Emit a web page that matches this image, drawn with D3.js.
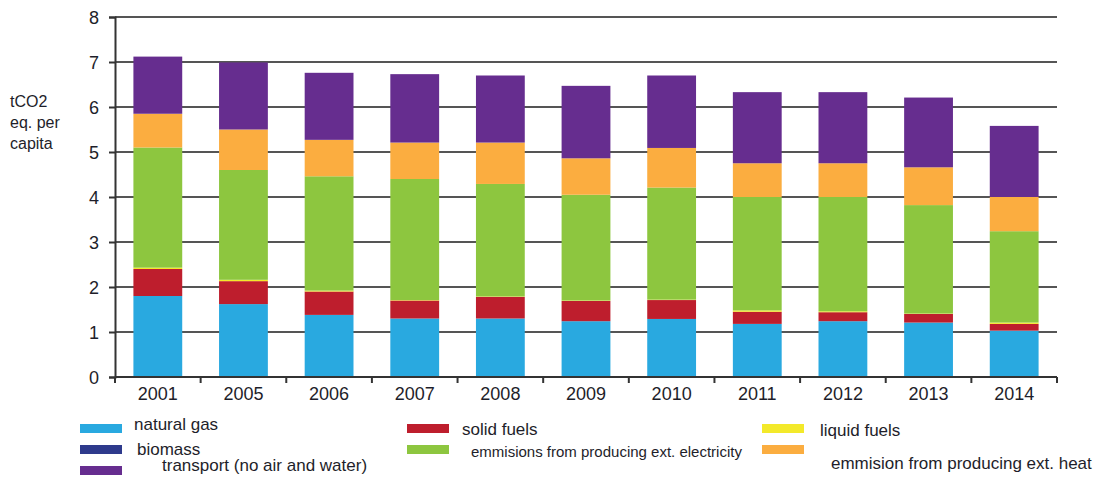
<!DOCTYPE html>
<html><head><meta charset="utf-8">
<script src="https://cdn.jsdelivr.net/npm/d3@7"></script>
<style>body{margin:0;background:#fff}svg text{font-family:"Liberation Sans",Arial,sans-serif}</style>
</head><body><svg id="c" width="1100" height="480"></svg>
<script>
const years = ["2001","2005","2006","2007","2008","2009","2010","2011","2012","2013","2014"];
const naturalGas  = [1.80,1.62,1.38,1.30,1.30,1.24,1.29,1.18,1.24,1.21,1.03];
const solidFuels  = [0.60,0.51,0.52,0.40,0.48,0.45,0.42,0.27,0.20,0.19,0.15];
const liquidFuels = [0.03,0.03,0.02,0.01,0.01,0.01,0.01,0.03,0.02,0.01,0.03];
const biomass     = [0,0,0,0,0,0,0,0,0,0,0];
const electricity = [2.67,2.44,2.54,2.69,2.50,2.35,2.49,2.52,2.54,2.41,2.03];
const heat        = [0.75,0.90,0.81,0.81,0.92,0.81,0.88,0.75,0.75,0.84,0.76];
const transport   = [1.27,1.49,1.49,1.52,1.49,1.61,1.61,1.58,1.58,1.55,1.58];
const yTicks = [0,1,2,3,4,5,6,7,8];

const seriesKeys = ["natural gas","solid fuels","liquid fuels","biomass","electricity","heat","transport"];
const seriesVals = [naturalGas,solidFuels,liquidFuels,biomass,electricity,heat,transport];
const colors = {"natural gas":"#29A9E0","solid fuels":"#BE1E2D","liquid fuels":"#F3E92A","biomass":"#2E3A8C",
  "electricity":"#8DC63F","heat":"#FBAD40","transport":"#662D8F"};

const rows = years.map((y,i)=>{const r={year:y};seriesKeys.forEach((k,j)=>r[k]=seriesVals[j][i]);return r;});
const svg = d3.select("#c");
const x = d3.scaleBand().domain(years).range([115,1057]).paddingInner(0.43).paddingOuter(0.215);
const y = d3.scaleLinear().domain([0,8]).range([377,17]);

// gridlines
svg.append("g").selectAll("line").data(yTicks.filter(d=>d>0)).join("line")
  .attr("x1",115).attr("x2",1057).attr("y1",d=>y(d)).attr("y2",d=>y(d))
  .attr("stroke","#555").attr("stroke-width",2);

const stack = d3.stack().keys(seriesKeys)(rows);
svg.append("g").selectAll("g").data(stack).join("g").attr("fill",d=>colors[d.key])
  .selectAll("rect").data(d=>d).join("rect")
  .attr("x",d=>x(d.data.year)).attr("width",x.bandwidth())
  .attr("y",d=>y(d[1])).attr("height",d=>Math.max(0,y(d[0])-y(d[1])));

// y axis
const ya = svg.append("g").attr("transform","translate(115,0)")
  .call(d3.axisLeft(y).tickValues(yTicks).tickSize(6).tickPadding(10));
ya.select(".domain").attr("stroke","#333").attr("stroke-width",2);
ya.selectAll(".tick line").attr("stroke","#333").attr("stroke-width",2);
ya.selectAll("text").attr("font-size",18).attr("fill","#1e1e2a").attr("dy","0.35em");

// x axis
const xa = svg.append("g").attr("transform","translate(0,377)")
  .call(d3.axisBottom(x).tickSize(0).tickPadding(10));
xa.select(".domain").attr("stroke","#333").attr("stroke-width",2).attr("d","M115,0H1057");
xa.selectAll("text").attr("font-size",18).attr("fill","#1e1e2a");
svg.append("g").selectAll("line").data(d3.range(years.length+1)).join("line")
  .attr("x1",d=>115+d*x.step()).attr("x2",d=>115+d*x.step())
  .attr("y1",377).attr("y2",383).attr("stroke","#333").attr("stroke-width",2);

// y title
const yt = svg.append("text").attr("font-size",16).attr("fill","#1e1e2a");
["tCO2","eq. per","capita"].forEach((t,i)=>yt.append("tspan").attr("x",10).attr("y",107+i*21).text(t));

// legend
const legend = [
  {key:"natural gas",label:"natural gas",sx:80,sy:424,tx:134,ty:430,fs:17},
  {key:"biomass",label:"biomass",sx:80,sy:445,tx:137,ty:455,fs:17},
  {key:"transport",label:"transport (no air and water)",sx:80,sy:466,tx:162,ty:471,fs:17},
  {key:"solid fuels",label:"solid fuels",sx:407,sy:424,tx:462,ty:435,fs:17},
  {key:"electricity",label:"emmisions from producing ext. electricity",sx:407,sy:445,tx:471,ty:457,fs:15},
  {key:"liquid fuels",label:"liquid fuels",sx:762,sy:424,tx:820,ty:436,fs:17},
  {key:"heat",label:"emmision from producing ext. heat",sx:762,sy:445,tx:831,ty:469,fs:17}
];
const lg = svg.append("g");
lg.selectAll("rect").data(legend).join("rect").attr("x",d=>d.sx).attr("y",d=>d.sy)
  .attr("width",42).attr("height",9).attr("fill",d=>colors[d.key]);
lg.selectAll("text").data(legend).join("text").attr("x",d=>d.tx).attr("y",d=>d.ty)
  .attr("font-size",d=>d.fs).attr("fill","#1e1e2a").text(d=>d.label);
</script></body></html>
